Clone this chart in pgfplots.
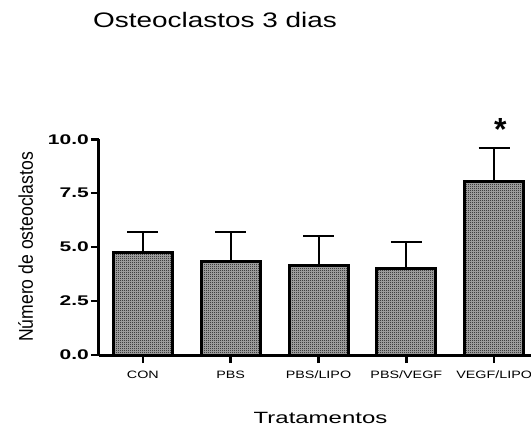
\documentclass[border=0pt]{standalone}
\usepackage{graphicx}
\usepackage{fontspec}
\setmainfont{Liberation Sans}
\usepackage{pgfplots}
\pgfplotsset{compat=1.18}
\usetikzlibrary{patterns.meta}
\pgfdeclarepattern{
  name=fchk,
  type=uncolored,
  bottom left={\pgfpointorigin},
  top right={\pgfpoint{2bp}{2bp}},
  tile size={\pgfpoint{2bp}{2bp}},
  code={
    \pgfpathrectangle{\pgfpointorigin}{\pgfpoint{1bp}{1bp}}
    \pgfpathrectangle{\pgfpoint{1bp}{1bp}}{\pgfpoint{1bp}{1bp}}
    \pgfusepath{fill}
  }
}
\newcommand\hs[2]{\scalebox{#1}[1]{#2}}
\begin{document}
\begin{tikzpicture}
\path[use as bounding box] (-99bp,-72bp) rectangle (432bp,355bp);
\begin{axis}[
  at={(0,0)}, anchor=south west,
  scale only axis, width=432bp, height=215.7bp,
  xmin=-0.5, xmax=4.42, ymin=0, ymax=10,
  axis x line*=bottom, axis y line*=left,
  axis line style={line width=3bp, -},
  ybar, bar width=59bp,
  xtick={0,1,2,3,4},
  xticklabels={\hs{1.34}{CON},\hs{1.34}{PBS},\hs{1.34}{PBS/LIPO},\hs{1.34}{PBS/VEGF},\hs{1.34}{VEGF/LIPO}},
  ytick={0,2.5,5,7.5,10},
  yticklabels={\hs{1.5}{0.0},\hs{1.5}{2.5},\hs{1.5}{5.0},\hs{1.5}{7.5},\hs{1.5}{10.0}},
  tick align=outside, major tick length=8bp,
  every tick/.style={black, line width=2.5bp},
  xticklabel style={font=\fontsize{10.7bp}{12bp}\selectfont, inner sep=0pt, anchor=north, yshift=-8bp},
  yticklabel style={font=\fontsize{14bp}{16bp}\selectfont\bfseries, inner sep=0pt, anchor=east, xshift=-2bp},
  clip=false,
]
\addplot[draw=black, line width=3bp, fill=black!30,
  postaction={pattern=fchk, pattern color=black},
  error bars/.cd, y dir=plus, y explicit,
  error mark=|,
  error bar style={line width=2bp, black},
  error mark options={line width=2bp, mark size=15.5bp, black}]
  coordinates {
    (0,4.75) +- (0,0.97)
    (1,4.34) +- (0,1.38)
    (2,4.13) +- (0,1.40)
    (3,4.00) +- (0,1.22)
    (4,8.03) +- (0,1.55)
  };
\node[anchor=north, inner sep=0pt, font=\fontsize{32bp}{34bp}\selectfont\bfseries] at (axis cs:4.07,10.99) {*};
\end{axis}
\node[anchor=base west, inner sep=0pt, font=\fontsize{21bp}{24bp}\selectfont] at (-6bp,327bp) {\hs{1.33}{Osteoclastos 3 dias}};
\node[anchor=base, inner sep=0pt, font=\fontsize{16.3bp}{18bp}\selectfont] at (221.5bp,-68.3bp) {\hs{1.47}{Tratamentos}};
\node[anchor=base, inner sep=0pt, rotate=90, font=\fontsize{17.6bp}{20bp}\selectfont] at (-66bp,108bp) {\scalebox{1}[1.13]{Número de osteoclastos}};
\end{tikzpicture}
\end{document}
